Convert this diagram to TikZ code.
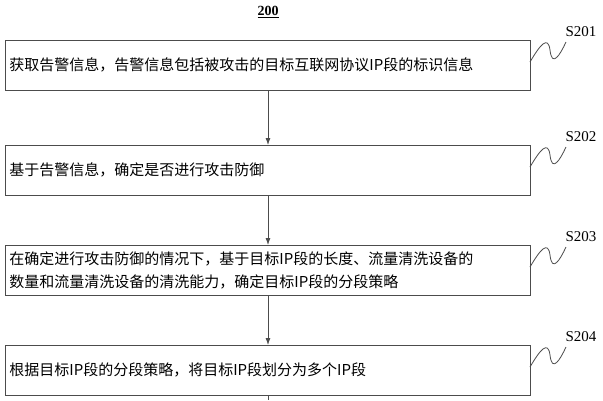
\documentclass[tikz,border=0pt]{standalone}
\usepackage{fontspec}
\setmainfont{Liberation Serif}
\newfontfamily\cjk{Noto Sans CJK SC}
\usetikzlibrary{arrows.meta}
\tikzstyle{stepbox}=[
      rectangle,
      draw = black!70,
      thick,
      minimum width = 525pt,
      minimum height = 50pt,
      inner sep = 4pt,
      text width = 517pt,
      font = \cjk\fontsize{15pt}{23pt}\selectfont
      ]
\tikzstyle{flowarrow}=[draw = black!70, thick, -{Latex[length=7pt,width=5pt]}]
\tikzstyle{wave}=[draw = black!70, thick]

\begin{document}
\begin{tikzpicture}[x=1pt,y=-1pt]
\useasboundingbox (0,0) rectangle (603,400);
\node[font=\bfseries\fontsize{14pt}{15pt}\selectfont] (title) at (268,12) {\underline{200}};

\node [stepbox, anchor=north west] (s1) at (5,40) {获取告警信息，告警信息包括被攻击的目标互联网协议IP段的标识信息};
\node [stepbox, anchor=north west] (s2) at (5,145) {基于告警信息，确定是否进行攻击防御};
\node [stepbox, anchor=north west] (s3) at (5,245) {在确定进行攻击防御的情况下，基于目标IP段的长度、流量清洗设备的\\数量和流量清洗设备的清洗能力，确定目标IP段的分段策略};
\node [stepbox, anchor=north west] (s4) at (5,345) {根据目标IP段的分段策略，将目标IP段划分为多个IP段};
\coordinate (end) at (268,400);

\draw [flowarrow] (s1.south -| end) -- (s2.north -| end);
\draw [flowarrow] (s2.south -| end) -- (s3.north -| end);
\draw [flowarrow] (s3.south -| end) -- (s4.north -| end);
\draw [flowarrow, -] (s4.south -| end) -- (end);

% step labels with wavy leaders
\foreach \n/\y in {1/40, 2/145, 3/245, 4/345} {
  \node [font=\fontsize{15pt}{16pt}\selectfont, anchor=west] (lab\n) at (562,\y-8) {S20\n};
  \draw [wave] (530,\y+22) .. controls (540,\y+5) and (548,\y-5) .. (550,\y+10)
        .. controls (552,\y+28) and (560,\y+15) .. (566,\y+2);
}
\end{tikzpicture}
\end{document}
